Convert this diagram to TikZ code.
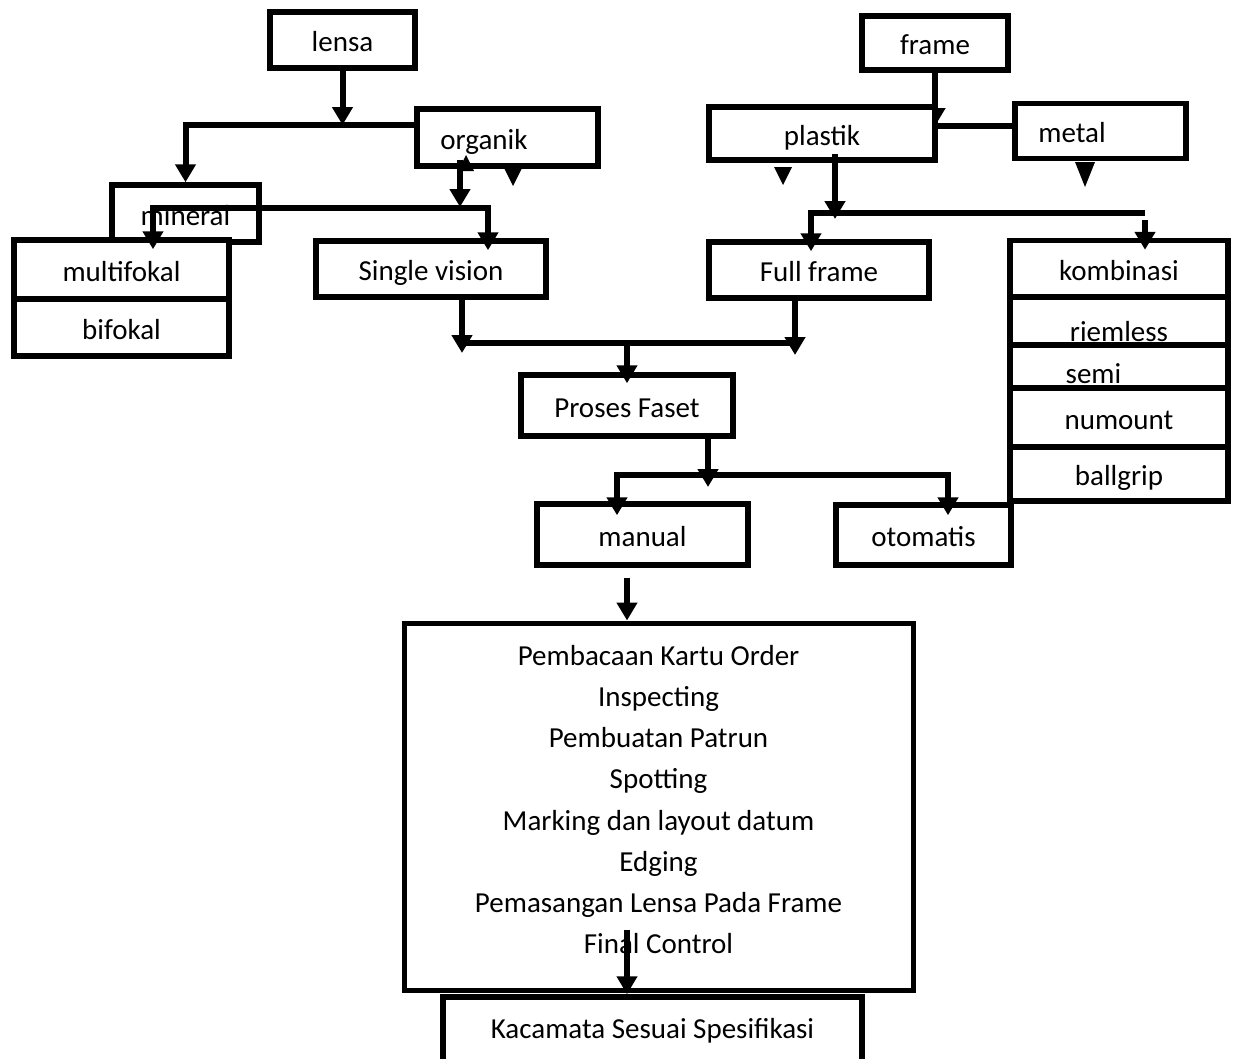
\documentclass[tikz,border=0pt]{standalone}
\usepackage{fontspec}
\setmainfont{Carlito}
\usetikzlibrary{arrows.meta,positioning,backgrounds}

\begin{document}
\begin{tikzpicture}[
  x=1pt, y=-1pt,
  font=\fontsize{29}{41.2}\selectfont,
  txt/.style={text height=23pt, text depth=0pt},
  box/.style={draw, fill=white, line width=5.5pt, inner sep=0pt, txt},
  sz/.style 2 args={minimum width=#1pt, minimum height=#2pt},
  line/.style={draw, line width=6pt},
  arr/.style={line, -{Triangle[length=18pt,width=20pt]}},
]
  \useasboundingbox (0,0) rectangle (1234,1058);

  % lensa side
  \node[box, sz={145}{56}] (lensa) at (342.5,40) {lensa};
  \node[box, sz={181}{57}, label={[txt, xshift=-23.5pt]center:organik}] (organik) at (507.5,137.5) {};
  \node[box, sz={147}{57}] (mineral) at (185.5,213.5) {mineral};
  \node[box, sz={215}{59}] (multifokal) at (121.5,269.5) {multifokal};
  \node[box, sz={215}{57}, below=-5.5pt of multifokal] (bifokal) {bifokal};
  \node[box, sz={230}{56}] (single) at (431,269) {Single vision};

  % frame side
  \node[box, sz={146}{54}] (frame) at (935,43) {frame};
  \node[box, sz={226}{53}] (plastik) at (822,133.5) {plastik};
  \node[box, sz={171}{55}, label={[txt, xshift=-28.5pt]center:metal}] (metal) at (1100.5,131) {};
  \node[box, sz={220}{56}] (fullframe) at (819,270) {Full frame};
  \node[box, sz={218}{56.5}] (kombinasi) at (1119,268.75) {kombinasi};
  \node[box, sz={218}{48}, below=-5.5pt of kombinasi, label={[txt, yshift=-8.5pt]center:riemless}] (riemless) {};
  \node[box, sz={218}{43}, below=-5.5pt of riemless, label={[txt, xshift=-25.5pt, yshift=-5pt]center:semi}] (semi) {};
  \node[box, sz={218}{59}, below=-5.5pt of semi] (numount) {numount};
  \node[box, sz={218}{54}, below=-5.5pt of numount] (ballgrip) {ballgrip};

  % faset
  \node[box, sz={212}{61}] (proses) at (627,405.5) {Proses Faset};
  \node[box, sz={211}{61}] (manual) at (642.5,534.5) {manual};
  \node[box, sz={175}{60}] (otomatis) at (923.5,535) {otomatis};
  \node[box, line width=5pt, sz={509}{367}, label={[align=center, yshift=7pt]center:Pembacaan Kartu Order\\Inspecting\\Pembuatan Patrun\\Spotting\\Marking dan layout datum\\Edging\\Pemasangan Lensa Pada Frame\\Final Control}] (proc) at (658.5,806.5) {};
  \node[box, sz={419}{70}, text height=12pt] (kacamata) at (652.5,1032) {Kacamata Sesuai Spesifikasi};

  % junctions
  \coordinate (jl) at (342.5,125);
  \coordinate (jorg) at (460,207);
  \coordinate (jm) at (153,208);
  \coordinate (js) at (488,208);
  \coordinate (jfr) at (935,126);
  \coordinate (jpl) at (835,213);
  \coordinate (jfu) at (811,213);
  \coordinate (jko) at (1145,213);
  \coordinate (jsv) at (462,343);
  \coordinate (jff) at (795,343);
  \coordinate (jpf) at (627,343);
  \coordinate (jpr) at (708,475);
  \coordinate (jma) at (617,475);
  \coordinate (jot) at (948,475);
  \coordinate (jfc) at (627,930);

  \begin{scope}[on background layer]
    \draw[arr] (frame) -- (jfr);
  \end{scope}

  \draw[arr] (lensa) -- (jl);
  \draw[arr] (organik.west |- jl) -| (mineral);
  \draw[arr, shorten <=-9pt] (organik.south -| jorg) -- (jorg);
  \fill (466,155) -- (474,171) -- (458,171) -- cycle;
  \draw[arr, shorten >=-12pt] (js) -| (multifokal.north -| jm);
  \draw[arr, shorten >=-12pt] (jm) -| (single.north -| js);

  \draw[line] (plastik.east |- jfr) -- (metal.west |- jfr);
  \draw[arr, shorten <=-9pt, shorten >=-6pt] (plastik.south -| jpl) -- (jpl);
  \draw[arr, shorten >=-12pt] (jko) -| (fullframe.north -| jfu);
  \draw[arr, shorten <=7pt, shorten >=-12pt] (jko) -- (kombinasi.north -| jko);

  % loose heads
  \fill (504,168) -- (522,168) -- (513,186) -- cycle;
  \fill (774,167) -- (792,167) -- (783,185) -- cycle;
  \fill (1075,162) -- (1095,162) -- (1085,187) -- cycle;

  \draw[line] (jsv) -- (jff);
  \draw[arr, shorten >=-10pt] (single.south -| jsv) -- (jsv);
  \draw[arr, shorten >=-12pt] (fullframe.south -| jff) -- (jff);
  \draw[arr, shorten >=-11pt] (jpf) -- (proses);

  \draw[arr, shorten >=-12pt] (proses.south -| jpr) -- (jpr);
  \draw[arr, shorten >=-14pt] (jot) -| (manual.north -| jma);
  \draw[arr, shorten >=-13pt] (jma) -| (otomatis.north -| jot);

  \draw[arr, shorten <=10pt] (manual.south -| proses) -- (proc.north -| proses);
  \draw[arr] (jfc) -- (kacamata.north -| jfc);
\end{tikzpicture}
\end{document}
